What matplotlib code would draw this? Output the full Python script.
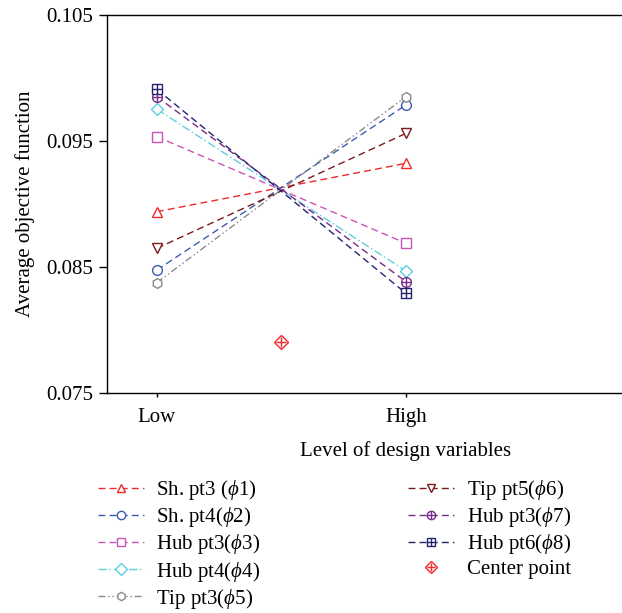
import matplotlib
matplotlib.use("Agg")
import matplotlib.pyplot as plt
from matplotlib.lines import Line2D

plt.rcParams['font.family'] = ['Liberation Serif', 'DejaVu Serif']
plt.rcParams['mathtext.fontset'] = 'custom'
plt.rcParams['mathtext.rm'] = 'Liberation Serif'
plt.rcParams['mathtext.it'] = 'Liberation Serif:italic'

levels = ["Low", "High"]
x_pos = [1, 2]
labels = ["Sh. pt3 ($\\phi$1)", "Sh. pt4($\\phi$2)", "Hub pt3($\\phi$3)", "Hub pt4($\\phi$4)",
          "Tip pt3($\\phi$5)", "Tip pt5($\\phi$6)", "Hub pt3($\\phi$7)", "Hub pt6($\\phi$8)"]
low_vals = [0.08939, 0.08476, 0.09534, 0.09752, 0.08376, 0.08648, 0.09852, 0.09910]
high_vals = [0.09323, 0.09786, 0.08688, 0.08468, 0.09852, 0.09561, 0.08383, 0.08291]
center_x = 1.5
center_val = 0.07905

colors = ["#ee2a2a", "#3a5bb0", "#c855b6", "#5ccfe0", "#8a8a8a", "#7a1a1a", "#7a2a8a", "#23236e"]
markers = ["^", "o", "s", "D", "h", "v", "o", "s"]
overlay = [None, None, None, None, None, None, "+", "+"]
styles = [(0, (5, 3)), (0, (5, 3)), (0, (5, 3)), (0, (6, 2, 1, 2)), (0, (5, 2, 1, 2, 1, 2)),
          (0, (5, 3)), (0, (5, 3)), (0, (5, 3))]

fig = plt.figure(figsize=(6.22, 6.13), dpi=100)
ax = fig.add_axes([107/622, 1-393/613, (705-107)/622, (393-15)/613])

handles = []
for i in range(8):
    ax.plot(x_pos, [low_vals[i], high_vals[i]], color=colors[i], linestyle=styles[i],
            linewidth=1.0, marker=markers[i], markersize=7 if markers[i] != "D" else 6,
            markerfacecolor="white", markeredgecolor=colors[i], markeredgewidth=1.0, zorder=3)
    h = Line2D([], [], color=colors[i], linestyle=styles[i], linewidth=1.0, marker=markers[i],
               markersize=6, markerfacecolor="white", markeredgecolor=colors[i], markeredgewidth=1.0)
    if overlay[i]:
        ax.plot(x_pos, [low_vals[i], high_vals[i]], linestyle="none", marker=overlay[i],
                markersize=7, color=colors[i], markeredgewidth=1.0, zorder=4)
        h2 = Line2D([], [], linestyle="none", marker=overlay[i], markersize=6,
                    color=colors[i], markeredgewidth=1.0)
        handles.append((h, h2))
    else:
        handles.append(h)

ax.plot([center_x], [center_val], linestyle="none", marker="D", markersize=7,
        markerfacecolor="white", markeredgecolor="#ee2a2a", markeredgewidth=1.0, zorder=3)
ax.plot([center_x], [center_val], linestyle="none", marker="+", markersize=7,
        color="#ee2a2a", markeredgewidth=1.0, zorder=4)
hc = (Line2D([], [], linestyle="none", marker="D", markersize=6, markerfacecolor="white",
             markeredgecolor="#ee2a2a", markeredgewidth=1.0),
      Line2D([], [], linestyle="none", marker="+", markersize=6, color="#ee2a2a", markeredgewidth=1.0))
handles.append(hc)
all_labels = labels + ["Center point"]

ax.set_xlim(0.8, 3.2)
ax.set_ylim(0.075, 0.105)
ax.set_yticks([0.075, 0.085, 0.095, 0.105])
ax.set_yticklabels(["0.075", "0.085", "0.095", "0.105"])
ax.set_xticks(x_pos)
ax.set_xticklabels(levels)
ax.tick_params(axis='both', direction='out', labelsize=15, width=1.0)
ax.tick_params(axis='y', length=6, pad=4)
ax.tick_params(axis='x', length=3, pad=8)
ax.spines['right'].set_visible(False)
for s in ['left', 'bottom', 'top']:
    ax.spines[s].set_linewidth(1.0)
ax.set_ylabel("Average objective function", fontsize=15, labelpad=8)
ax.set_xlabel("Level of design variables", fontsize=15, labelpad=10)

fig.legend(handles, all_labels, ncol=2, loc="upper left", bbox_to_anchor=(94/622, 1-474/613),
           frameon=False, fontsize=15, handlelength=2.2, columnspacing=7.1,
           labelspacing=0.15, handletextpad=0.6, borderaxespad=0, borderpad=0.2)

fig.savefig("out.png", dpi=100)
